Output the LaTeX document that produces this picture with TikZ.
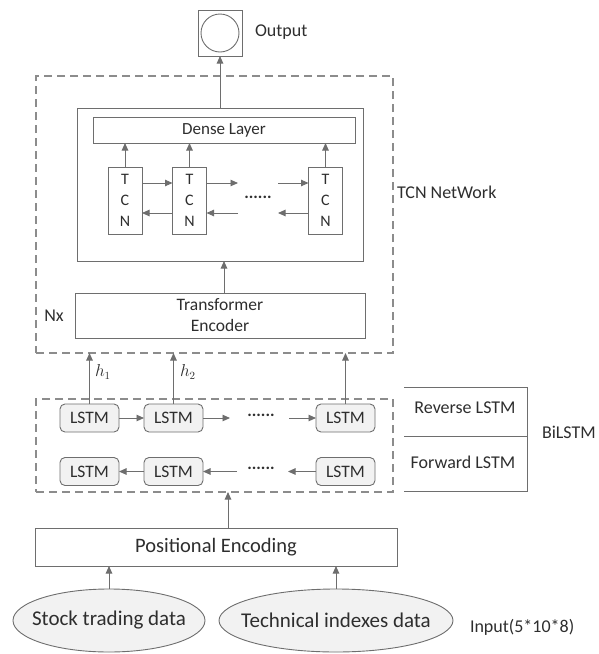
\documentclass[tikz,border=0pt]{standalone}
\usepackage{fontspec}
\setmainfont{Carlito}
\usetikzlibrary{arrows.meta,shapes.geometric,calc}
\definecolor{ln}{HTML}{6E6E6E}
\definecolor{dl}{HTML}{8C8C8C}
\definecolor{tx}{HTML}{2E2E2E}
\definecolor{fl}{HTML}{F2F2F2}
\tikzset{
  x=1pt,y=1pt,
  every node/.style={text=tx,inner sep=0pt,outer sep=0pt},
  box/.style={draw=ln,line width=0.9pt,rectangle},
  dbox/.style={draw=dl,line width=1.1pt,dash pattern=on 8pt off 5pt,rectangle},
  lstm/.style={draw=ln,line width=0.9pt,rectangle,rounded corners=5pt,fill=fl,minimum width=59pt,minimum height=28pt,font=\fontsize{17.5}{19}\selectfont},
  tcn/.style={box,minimum width=34pt,minimum height=67pt,align=center,font=\fontsize{16}{21}\selectfont},
  ell/.style={draw=ln,line width=0.9pt,ellipse,fill=fl,font=\fontsize{21}{23}\selectfont},
  arr/.style={draw=ln,line width=0.9pt,-{Triangle[length=7.5pt,width=6.5pt]}},
  ln/.style={draw=ln,line width=0.9pt},
  lbl/.style={font=\fontsize{18}{20}\selectfont}
}
\begin{document}
\begin{tikzpicture}
\useasboundingbox (0,0) rectangle (598,-654);
% output
\node[box,minimum width=44pt,minimum height=46pt] (out) at (220,-33) {};
\node[draw=ln,line width=0.9pt,circle,minimum size=38pt] (outc) at (out.center) {};
\node[lbl,anchor=west] (outt) at (255,-32) {Output};
% TCN network dashed
\node[dbox,minimum width=357pt,minimum height=277pt] (net) at (214.5,-214.5) {};
\node[lbl,anchor=west] (netl) at (397,-192) {TCN NetWork};
\node[lbl] (nx) at (54,-316) {Nx};
\node[box,minimum width=286pt,minimum height=153pt] (inner) at (220,-184.5) {};
\node[box,minimum width=262pt,minimum height=26pt,font=\fontsize{17}{19}\selectfont] (dense) at (224,-130) {Dense Layer};
\node[tcn] (t1) at (125,-200.5) {T\\C\\N};
\node[tcn] (t2) at (189.5,-200.5) {T\\C\\N};
\node[tcn] (t3) at (325.5,-200.5) {T\\C\\N};
\node[font=\fontsize{17}{19}\selectfont] (tdots) at (258,-197) {\textbf{......}};
\coordinate (ta) at (238,-183);
\coordinate (tb) at (278,-183);
\coordinate (tc) at (238,-213);
\coordinate (td) at (278,-213);
\node[box,minimum width=290pt,minimum height=45pt,align=center,font=\fontsize{17.5}{21}\selectfont] (trans) at (220,-315.5) {Transformer\\Encoder};
% arrows TCN
\draw[arr] (inner.north) -- (out.south);
\draw[arr] (trans.north -| dense.center) -- (inner.south -| dense.center);
\foreach \t in {t1,t2,t3} \draw[arr] (\t.north) -- (\t.north |- dense.south);
\draw[arr] ([yshift=17.5pt]t1.east) -- ([yshift=17.5pt]t2.west);
\draw[arr] ([yshift=17.5pt]t2.east) -- (ta);
\draw[arr] (tb) -- ([yshift=17.5pt]t3.west);
\draw[arr] ([yshift=-12.5pt]t2.west) -- ([yshift=-12.5pt]t1.east);
\draw[arr] (tc) -- ([yshift=-12.5pt]t2.east);
\draw[arr] ([yshift=-12.5pt]t3.west) -- (td);
% BiLSTM
\node[dbox,minimum width=357pt,minimum height=93pt] (bi) at (214.5,-445.5) {};
\node[lstm] (l11) at (89.5,-418) {LSTM};
\node[lstm] (l12) at (173.5,-418) {LSTM};
\node[lstm] (l13) at (345.5,-418) {LSTM};
\node[lstm] (l21) at (89.5,-471.5) {LSTM};
\node[lstm] (l22) at (173.5,-471.5) {LSTM};
\node[lstm] (l23) at (345.5,-471.5) {LSTM};
\node[font=\fontsize{17}{19}\selectfont] (ld1) at (261,-415) {\textbf{......}};
\node[font=\fontsize{17}{19}\selectfont] (ld2) at (261,-468.5) {\textbf{......}};
\coordinate (la) at (230,-418);
\coordinate (lb) at (289,-418);
\coordinate (lc) at (237,-471.5);
\coordinate (ld) at (288,-471.5);
\draw[arr] (l11) -- (l12);
\draw[arr] (l12) -- (la);
\draw[arr] (lb) -- (l13);
\draw[arr] (l23) -- (ld);
\draw[arr] (lc) -- (l22);
\draw[arr] (l22) -- (l21);
\draw[arr] (l11.north) -- (l11.north |- net.south);
\draw[arr] (l12.north) -- (l12.north |- net.south);
\draw[arr] (l13.north) -- (l13.north |- net.south);
\node[font=\fontsize{16}{18}\selectfont,anchor=west] (h1) at (95,-372) {$h_1$};
\node[font=\fontsize{16}{18}\selectfont,anchor=west] (h2) at (180,-372) {$h_2$};
% side labels
\coordinate (s1) at (404,-387);
\coordinate (s2) at (527,-387);
\coordinate (s3) at (404,-436);
\coordinate (s4) at (527,-436);
\coordinate (s5) at (404,-491);
\coordinate (s6) at (527,-491);
\draw[ln] (s1) -- (s2) -- (s6) -- (s5);
\draw[ln] (s3) -- (s4);
\node[lbl] (rev) at (465,-408) {Reverse LSTM};
\node[lbl] (fwd) at (463,-462) {Forward LSTM};
\node[lbl,anchor=west] (bil) at (542,-432) {BiLSTM};
% positional encoding
\node[box,minimum width=362pt,minimum height=38pt,font=\fontsize{20.5}{22}\selectfont] (pos) at (216,-547) {Positional Encoding};
\draw[arr] ([xshift=12pt]pos.north) -- ([xshift=12pt]pos.north |- bi.south);
\node[ell,minimum width=192pt,minimum height=63pt] (e1) at (109,-620.5) {\makebox[0pt]{Stock trading data}};
\node[ell,minimum width=234pt,minimum height=63pt] (e2) at (336,-620.5) {\makebox[0pt]{Technical indexes data}};
\draw[arr] (e1.north) -- (e1.north |- pos.south);
\draw[arr] (e2.north) -- (e2.north |- pos.south);
\node[lbl,anchor=west] (inp) at (470,-627) {Input(5*10*8)};
\end{tikzpicture}
\end{document}
